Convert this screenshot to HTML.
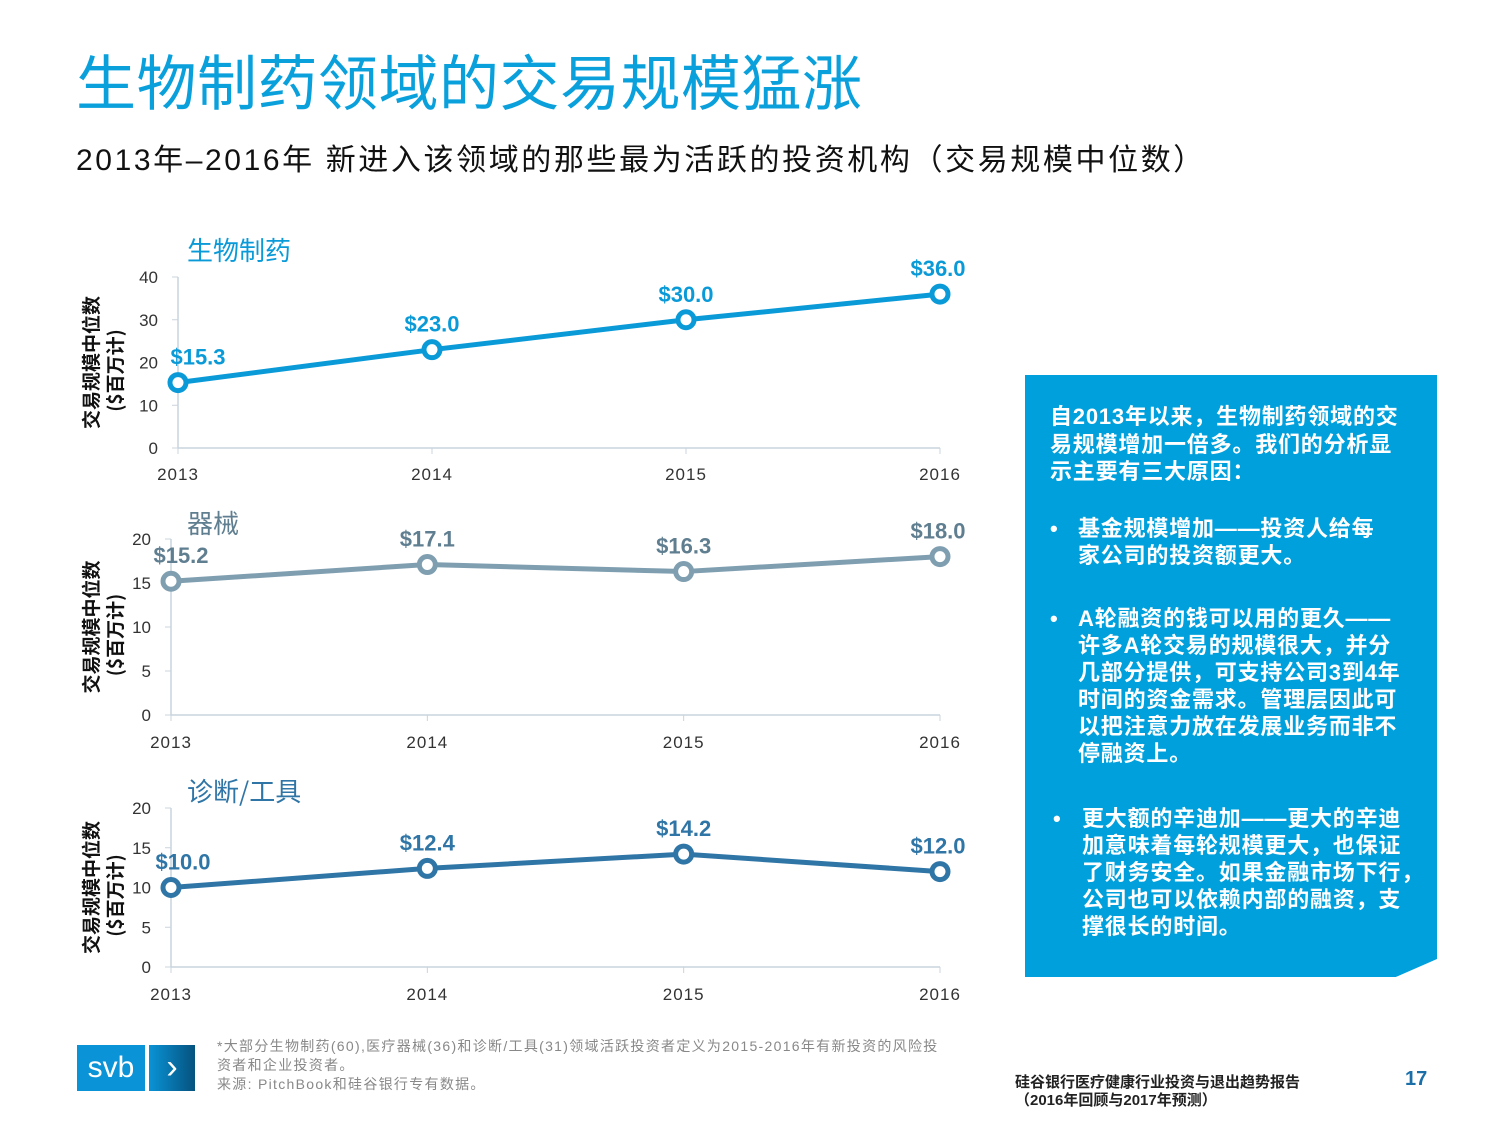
<!DOCTYPE html>
<html><head><meta charset="utf-8">
<style>
body{margin:0;width:1500px;height:1125px;background:#fff;position:relative;overflow:hidden;font-family:"Liberation Sans","Noto Sans CJK SC",sans-serif;}
.abs{position:absolute;white-space:nowrap;}
#box{position:absolute;left:1025px;top:375px;width:412px;height:602px;background:#00a0dc;clip-path:polygon(0 0,100% 0,100% 97%,90% 100%,0 100%);}
.bt{position:absolute;color:#fff;font-size:22px;line-height:27.5px;font-weight:bold;white-space:nowrap;letter-spacing:0.8px;}
</style></head><body>
<div class="abs" style="left:76px;top:44px;font-size:60px;color:#0aa0dc;font-family:'Noto Sans CJK SC',sans-serif;letter-spacing:0.5px;line-height:72px;">生物制药领域的交易规模猛涨</div>
<div class="abs" style="left:76px;top:141px;font-size:30px;color:#111;line-height:40px;letter-spacing:2.6px;">2013年–2016年 新进入该领域的那些最为活跃的投资机构（交易规模中位数）</div>

<svg id="charts" width="1000" height="1030" style="position:absolute;left:0;top:0;" font-family="Liberation Sans, Noto Sans CJK SC, sans-serif"></svg>

<div id="box">
<div class="bt" style="left:25px;top:28px;">自2013年以来，生物制药领域的交</div>
<div class="bt" style="left:25px;top:56px;">易规模增加一倍多。我们的分析显</div>
<div class="bt" style="left:25px;top:83px;">示主要有三大原因：</div>
<div class="bt" style="left:25px;top:140px;">•</div>
<div class="bt" style="left:53px;top:140px;">基金规模增加——投资人给每</div>
<div class="bt" style="left:53px;top:167px;">家公司的投资额更大。</div>
<div class="bt" style="left:25px;top:230px;">•</div>
<div class="bt" style="left:53px;top:230px;">A轮融资的钱可以用的更久——</div>
<div class="bt" style="left:53px;top:257px;">许多A轮交易的规模很大，并分</div>
<div class="bt" style="left:53px;top:284px;">几部分提供，可支持公司3到4年</div>
<div class="bt" style="left:53px;top:311px;">时间的资金需求。管理层因此可</div>
<div class="bt" style="left:53px;top:338px;">以把注意力放在发展业务而非不</div>
<div class="bt" style="left:53px;top:365px;">停融资上。</div>
<div class="bt" style="left:28px;top:430px;">•</div>
<div class="bt" style="left:57px;top:430px;">更大额的辛迪加——更大的辛迪</div>
<div class="bt" style="left:57px;top:457px;">加意味着每轮规模更大，也保证</div>
<div class="bt" style="left:57px;top:484px;">了财务安全。如果金融市场下行，</div>
<div class="bt" style="left:57px;top:511px;">公司也可以依赖内部的融资，支</div>
<div class="bt" style="left:57px;top:538px;">撑很长的时间。</div>
</div>

<div class="abs" style="left:77px;top:1045px;width:68px;height:46px;background:#0a93d6;color:#fff;font-size:30px;line-height:46px;text-align:center;">svb</div>
<div class="abs" style="left:149px;top:1045px;width:46px;height:46px;background:linear-gradient(90deg,#0a93d6,#05527e);color:#fff;font-size:34px;line-height:44px;text-align:center;">›</div>
<div class="abs" style="left:217px;top:1037px;font-size:14px;color:#888;line-height:19px;letter-spacing:1.3px;">*大部分生物制药(60),医疗器械(36)和诊断/工具(31)领域活跃投资者定义为2015-2016年有新投资的风险投<br>资者和企业投资者。<br>来源: PitchBook和硅谷银行专有数据。</div>
<div class="abs" style="left:1015px;top:1074px;font-size:15px;font-weight:bold;color:#222;line-height:18px;">硅谷银行医疗健康行业投资与退出趋势报告<br>（2016年回顾与2017年预测）</div>
<div class="abs" style="left:1405px;top:1068px;font-size:20px;font-weight:bold;color:#1a6fa8;">17</div>

<script>
const years = ["2013","2014","2015","2016"];
const bioValues = [15.3, 23.0, 30.0, 36.0];
const devValues = [15.2, 17.1, 16.3, 18.0];
const diagValues = [10.0, 12.4, 14.2, 12.0];
const bioTicks = [0,10,20,30,40];
const devTicks = [0,5,10,15,20];
const diagTicks = [0,5,10,15,20];
const titles = ["生物制药","器械","诊断/工具"];

const svg = document.getElementById('charts');
const NS = "http://www.w3.org/2000/svg";
function mk(tag, attrs, parent){const e=document.createElementNS(NS,tag);for(const k in attrs)e.setAttribute(k,attrs[k]);(parent||svg).appendChild(e);return e;}

const configs = [
 {vals:bioValues,ticks:bioTicks,max:40,x0:178,x1:940,y0:448,yTop:277,col:"#0a9ad8",lab:"#0a9ad8",title:titles[0],tx:187,ty:260,yl:474,ax:"bio",firstDx:20},
 {vals:devValues,ticks:devTicks,max:20,x0:171,x1:940,y0:715,yTop:539,col:"#7f9fb1",lab:"#5f7e90",title:titles[1],tx:187,ty:533,yl:742,ax:"devices",firstDx:10},
 {vals:diagValues,ticks:diagTicks,max:20,x0:171,x1:940,y0:967,yTop:808,col:"#2f75a6",lab:"#2f75a6",title:titles[2],tx:187,ty:801,yl:994,ax:"diagnostics",firstDx:12}
];
configs.forEach((c,ci)=>{
 const g = mk('g',{});
 
 
 const xs = i => c.x0 + (c.x1-c.x0)*i/(years.length-1);
 const ys = v => c.y0 - (c.y0-c.yTop)*v/c.max;
 const t = mk('text',{x:c.tx,y:c.ty,fill:c.lab,'font-size':26,'font-family':'Noto Sans CJK SC, sans-serif'},g); t.textContent=c.title;
 
 
 const ax = mk('line',{x1:c.x0,x2:c.x0,y1:c.yTop,y2:c.y0,stroke:"#c8d4de",'stroke-width':1.5},g);
 
 
 const bx = mk('line',{x1:c.x0,x2:c.x1,y1:c.y0,y2:c.y0,stroke:"#c8d4de",'stroke-width':1.5},g);
 
 
 c.ticks.forEach(tv=>{
  mk('line',{x1:c.x0-6,x2:c.x0,y1:ys(tv),y2:ys(tv),stroke:"#c8d4de"},g);
  const tl = mk('text',{x:c.x0-20,y:ys(tv)+6,'text-anchor':'end',fill:"#333",'font-size':17},g); tl.textContent=tv;
  
  
 });
 years.forEach((y,i)=>{
  mk('line',{x1:xs(i),x2:xs(i),y1:c.y0,y2:c.y0+6,stroke:"#c8d4de"},g);
  const xl = mk('text',{x:xs(i),y:c.yl+6,'text-anchor':'middle',fill:"#333",'font-size':17,'letter-spacing':1},g); xl.textContent=y;
  
  
 });
 const pts = c.vals.map((v,i)=>xs(i)+','+ys(v)).join(' ');
 const pl = mk('polyline',{points:pts,fill:'none',stroke:c.col,'stroke-width':5},g);
 
 
 c.vals.forEach((v,i)=>{
  const p = mk('circle',{cx:xs(i),cy:ys(v),r:8,fill:'#fff',stroke:c.col,'stroke-width':5},g);
  
  
  const dx = i===0 ? c.firstDx : (i===years.length-1 ? -2 : 0);
  const lb = mk('text',{x:xs(i)+dx,y:ys(v)-18,'text-anchor':'middle',fill:c.lab,'font-size':22,'font-weight':'bold'},g);
  lb.textContent = '$'+v.toFixed(1);
  
  
 });
 const yt = mk('text',{transform:`translate(98,${(c.y0+c.yTop)/2}) rotate(-90)`,'text-anchor':'middle',fill:'#111','font-size':19,'font-weight':'bold','font-family':'Noto Sans CJK SC, sans-serif'},g);
 yt.textContent='交易规模中位数';
 
 
 const yt2 = mk('text',{transform:`translate(122,${(c.y0+c.yTop)/2+8}) rotate(-90)`,'text-anchor':'middle',fill:'#111','font-size':19,'font-weight':'bold','font-family':'Noto Sans CJK SC, sans-serif'},g);
 yt2.textContent='($百万计)';
 
 
});
</script>
</body></html>
